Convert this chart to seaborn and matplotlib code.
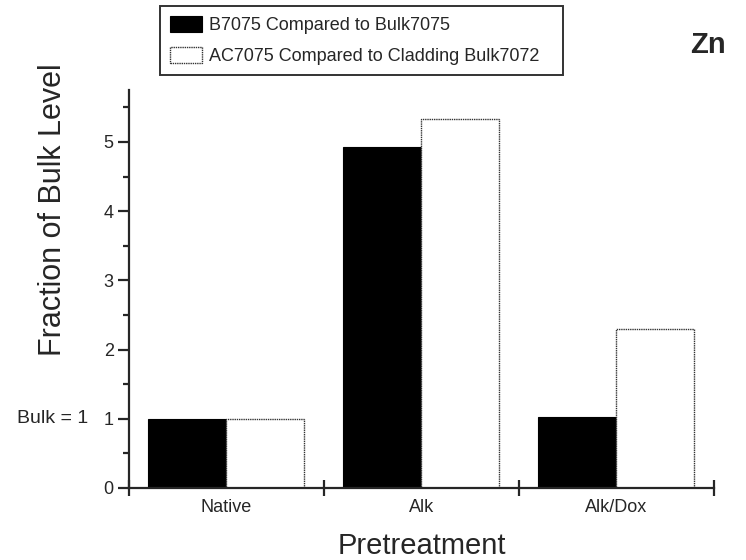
import pandas as pd
import matplotlib.pyplot as plt
import seaborn as sns
from matplotlib.ticker import FixedLocator

# chart values
pretreatments = ['Native', 'Alk', 'Alk/Dox']
series_names = ['B7075 Compared to Bulk7075', 'AC7075 Compared to Cladding Bulk7072']
b7075_vals = [1.00, 4.92, 1.03]
ac7075_vals = [0.99, 5.33, 2.30]
y_ticks = [0, 1, 2, 3, 4, 5]

df = pd.DataFrame({
    'Pretreatment': pretreatments * 2,
    'Series': [series_names[0]] * 3 + [series_names[1]] * 3,
    'Value': b7075_vals + ac7075_vals,
})

sns.set_style('ticks')
plt.rcParams['font.family'] = ['Liberation Sans', 'DejaVu Sans']

fig = plt.figure(figsize=(7.46, 5.6), dpi=100)
ax = fig.add_axes([0.1729, 0.1286, 0.7842, 0.7107])

sns.barplot(data=df, x='Pretreatment', y='Value', hue='Series', order=pretreatments,
            hue_order=series_names, palette=['black', 'white'], width=0.8,
            saturation=1, errorbar=None, ax=ax, legend=False)

# edges: black bars solid, white bars thin dotted dark outline
for i, patch in enumerate(ax.patches):
    if i < 3:
        patch.set_edgecolor('black')
        patch.set_linewidth(0.8)
    else:
        patch.set_edgecolor('#333333')
        patch.set_linewidth(1.0)
        patch.set_linestyle((0, (1, 0.6)))

ax.set_xlim(-0.5, 2.5)
ax.set_ylim(0, 5.75)
ax.set_yticks(y_ticks)
ax.yaxis.set_minor_locator(FixedLocator([v + 0.5 for v in y_ticks]))
ax.tick_params(axis='y', which='major', length=8, width=1.6, labelsize=13,
               direction='out', pad=3)
ax.tick_params(axis='y', which='minor', length=4, width=1.6, direction='out')

ax.xaxis.set_minor_locator(FixedLocator([-0.5, 0.5, 1.5, 2.5]))
ax.tick_params(axis='x', which='major', length=0, labelsize=13, pad=8)
ax.tick_params(axis='x', which='minor', length=12, width=1.6, direction='inout')

sns.despine(ax=ax)
ax.spines['left'].set_linewidth(1.6)
ax.spines['bottom'].set_linewidth(1.6)

ax.set_xlabel('Pretreatment', fontsize=21)
ax.xaxis.set_label_coords(0.5, -0.11)
ax.set_ylabel('Fraction of Bulk Level', fontsize=22)
ax.yaxis.set_label_coords(-0.104, 0.698)

ax.text(-0.070, 1, 'Bulk = 1', transform=ax.get_yaxis_transform(),
        ha='right', va='center', fontsize=14)

# legend boxed above the axes, stretched to the reference box width
handles = [ax.patches[0], ax.patches[3]]
leg = fig.legend(handles, series_names, loc='upper left',
                 bbox_to_anchor=(160 / 746, 1 - 78 / 560, 403 / 746, 72 / 560),
                 mode='expand', frameon=True, fancybox=False, edgecolor='black',
                 fontsize=13, handlelength=1.8, handleheight=1.0, handletextpad=0.35,
                 borderpad=0.55, labelspacing=0.7, borderaxespad=0)
leg.get_frame().set_linewidth(1.4)

fig.text(690 / 746, 0.92, 'Zn', fontsize=21, fontweight='bold', ha='left', va='center')

fig.savefig('out.png', dpi=100)
